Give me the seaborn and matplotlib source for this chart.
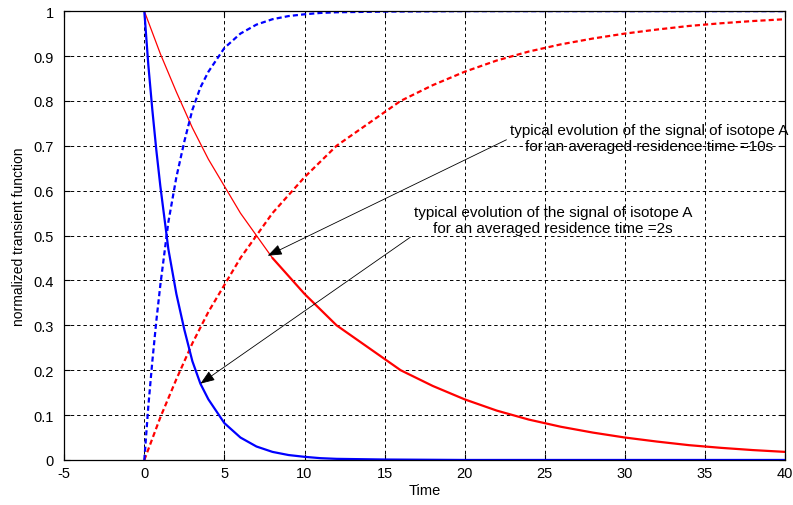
import numpy as np
import pandas as pd
import matplotlib
matplotlib.use("Agg")
import matplotlib.pyplot as plt
import seaborn as sns

# values
t_blue = [0, 0.25, 0.5, 0.75, 1, 1.5, 2, 2.5, 3, 3.5, 4, 5, 6, 7, 8, 9, 10, 11, 12, 15, 20, 25, 30, 35, 40]
blue_decay = [1.0, 0.88, 0.78, 0.69, 0.61, 0.47, 0.37, 0.29, 0.22, 0.17, 0.135, 0.082, 0.05, 0.03,
              0.018, 0.011, 0.007, 0.004, 0.0025, 0.001, 0.0, 0.0, 0.0, 0.0, 0.0]
blue_rise = [0.0, 0.12, 0.22, 0.31, 0.39, 0.53, 0.63, 0.71, 0.78, 0.83, 0.865, 0.918, 0.95, 0.97,
             0.982, 0.989, 0.993, 0.996, 0.9975, 0.999, 1.0, 1.0, 1.0, 1.0, 1.0]

t_red = [0, 1, 2, 3, 4, 5, 6, 7, 8, 9, 10, 12, 14, 16, 18, 20, 22, 24, 26, 28, 30, 32, 34, 36, 38, 40]
red_decay = [1.0, 0.905, 0.82, 0.74, 0.67, 0.61, 0.55, 0.50, 0.45, 0.41, 0.37, 0.30, 0.25, 0.20,
             0.165, 0.135, 0.11, 0.09, 0.074, 0.061, 0.05, 0.041, 0.033, 0.027, 0.022, 0.018]
red_rise = [0.0, 0.095, 0.18, 0.26, 0.33, 0.39, 0.45, 0.50, 0.55, 0.59, 0.63, 0.70, 0.75, 0.80,
            0.835, 0.865, 0.89, 0.91, 0.926, 0.939, 0.95, 0.959, 0.967, 0.973, 0.978, 0.982]

x_ticks = [-5, 0, 5, 10, 15, 20, 25, 30, 35, 40]
y_ticks = [0, 0.1, 0.2, 0.3, 0.4, 0.5, 0.6, 0.7, 0.8, 0.9, 1]
y_tick_labels = ["0", "0.1", "0.2", "0.3", "0.4", "0.5", "0.6", "0.7", "0.8", "0.9", "1"]

label_10s = "typical evolution of the signal of isotope A\nfor an averaged residence time =10s"
label_2s = "typical evolution of the signal of isotope A\nfor an averaged residence time =2s"

blue_df = pd.DataFrame({"t": t_blue, "decay": blue_decay, "rise": blue_rise})
red_df = pd.DataFrame({"t": t_red, "decay": red_decay, "rise": red_rise})

sns.set_theme(style="white")
plt.rcParams["font.family"] = ["Liberation Sans", "DejaVu Sans"]

fig = plt.figure(figsize=(7.93, 5.06), dpi=100)
ax = fig.add_axes([0.081, 0.089, 0.909, 0.887])

# red curves (tau = 10 s)
sns.lineplot(data=red_df[red_df["t"] <= 8], x="t", y="decay", color="red", lw=0.9, ax=ax)
sns.lineplot(data=red_df[red_df["t"] >= 8], x="t", y="decay", color="red", lw=1.6, ax=ax)
sns.lineplot(data=red_df, x="t", y="rise", color="red", lw=1.6, linestyle=(0, (2.3, 1.4)), ax=ax)

# blue curves (tau = 2 s)
sns.lineplot(data=blue_df, x="t", y="decay", color="blue", lw=1.6, ax=ax)
sns.lineplot(data=blue_df, x="t", y="rise", color="blue", lw=1.6, linestyle=(0, (2.3, 1.4)), ax=ax)

ax.set_xlim(-5, 40)
ax.set_ylim(0, 1)
ax.set_xticks(x_ticks)
ax.set_xticklabels([str(v) for v in x_ticks])
ax.set_yticks(y_ticks)
ax.set_yticklabels(y_tick_labels)
ax.tick_params(direction="in", length=4, width=0.8, colors="black", labelsize=10.5,
               top=True, right=True, bottom=True, left=True)
ax.tick_params(axis="y", pad=7.5)
ax.tick_params(axis="x", pad=4.5)
ax.grid(True, color="black", lw=0.7, linestyle=(0, (3.5, 3)))
for s in ax.spines.values():
    s.set_color("black")
    s.set_linewidth(0.9)

ax.set_xlabel("Time", fontsize=10.5, color="black", labelpad=2)
ax.set_ylabel("normalized transient function", fontsize=10, color="black", labelpad=5)

ax.annotate(label_10s, xy=(7.7, 0.455), xytext=(31.5, 0.717), ha="center", va="center",
            fontsize=11, color="black", annotation_clip=False,
            arrowprops=dict(arrowstyle="-|>,head_length=0.8,head_width=0.3", color="black", lw=0.6,
                            shrinkA=0, shrinkB=0, relpos=(0, 0.5)))
ax.annotate(label_2s, xy=(3.5, 0.17), xytext=(25.5, 0.535), ha="center", va="center",
            fontsize=11, color="black", annotation_clip=False,
            arrowprops=dict(arrowstyle="-|>,head_length=0.8,head_width=0.3", color="black", lw=0.6,
                            shrinkA=0, shrinkB=0, relpos=(0, 0)))

fig.savefig("out.png", dpi=100)
